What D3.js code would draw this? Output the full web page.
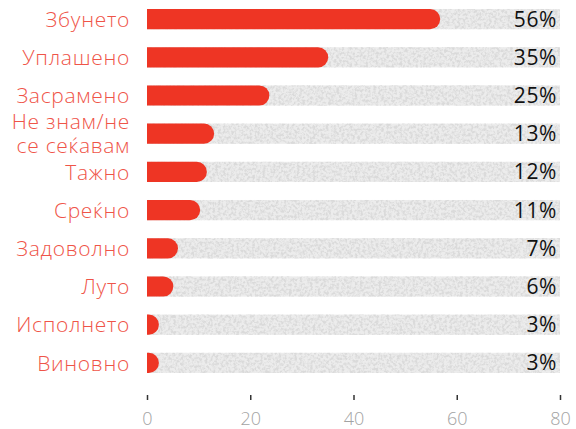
<!DOCTYPE html>
<html>
<head>
<meta charset="utf-8">
<script src="https://cdn.jsdelivr.net/npm/d3@7/dist/d3.min.js"></script>
<style>
  html, body { margin: 0; padding: 0; background: #fff; }
  svg { display: block; }
  .cat { font-family: "Open Sans", sans-serif; font-weight: 300; font-size: 21px; letter-spacing: 0.7px; fill: #ef5448; }
  .pct { font-family: "Open Sans", sans-serif; font-size: 21px; letter-spacing: 0.6px; fill: #111; }
  .axis text { font-family: "Open Sans", sans-serif; font-weight: 300; font-size: 18px; fill: #a3a3a3; }
</style>
</head>
<body>
<svg width="576" height="429"></svg>
<script>
// Data
var categories = ["Збунето", "Уплашено", "Засрамено", "Не знам/не\nсе сеќавам", "Тажно", "Среќно", "Задоволно", "Луто", "Исполнето", "Виновно"];
var values = [56.8, 35.1, 23.7, 13, 11.6, 10.3, 6, 5.1, 2.3, 2.3];
var pctLabels = ["56%", "35%", "25%", "13%", "12%", "11%", "7%", "6%", "3%", "3%"];
var ticks = [0, 20, 40, 60, 80];

var svg = d3.select("svg");

// grain texture for the grey track
var defs = svg.append("defs");
var f = defs.append("filter").attr("id", "grain")
  .attr("x", 0).attr("y", 0).attr("width", 1).attr("height", 1);
f.append("feTurbulence").attr("type", "fractalNoise").attr("baseFrequency", 0.38)
  .attr("numOctaves", 3).attr("seed", 4).attr("result", "noise");
f.append("feColorMatrix").attr("in", "noise").attr("type", "matrix")
  .attr("values", "0 0 0 0 0.7  0 0 0 0 0.7  0 0 0 0 0.7  0 0 0 3.4 -1.35")
  .attr("result", "specks");
f.append("feComposite").attr("in", "specks").attr("in2", "SourceGraphic").attr("operator", "in").attr("result", "clipped");
var fm = f.append("feMerge");
fm.append("feMergeNode").attr("in", "SourceGraphic");
fm.append("feMergeNode").attr("in", "clipped");

var x = d3.scaleLinear().domain([0, 80]).range([147, 560]);
var y = d3.scaleBand().domain(categories).range([0, 382]).paddingInner(0.47).paddingOuter(0.235);
var bh = y.bandwidth();

// grey tracks
svg.selectAll(".track")
  .data(categories)
  .enter().append("rect")
  .attr("class", "track")
  .attr("x", x(0))
  .attr("y", function(d) { return y(d); })
  .attr("width", x(80) - x(0))
  .attr("height", bh)
  .attr("fill", "#ececec")
  .attr("filter", "url(#grain)");

// red bars, square left edge and round right end
function barPath(v, top) {
  var x0 = x(0), x1 = x(v), r = bh / 2;
  var xs = Math.max(x0, x1 - r);
  return "M" + x0 + "," + top + "H" + xs +
    "A" + r + "," + r + " 0 0 1 " + xs + "," + (top + bh) +
    "H" + x0 + "Z";
}
svg.selectAll(".bar")
  .data(values)
  .enter().append("path")
  .attr("class", "bar")
  .attr("d", function(d, i) { return barPath(d, y(categories[i])); })
  .attr("fill", "#ee3524");

// category labels
svg.selectAll(".cat")
  .data(categories)
  .enter().append("text")
  .attr("class", "cat")
  .attr("text-anchor", "end")
  .attr("x", 130)
  .attr("y", function(d) { return y(d) + bh / 2; })
  .each(function(d) {
    var lines = d.split("\n");
    var t = d3.select(this);
    lines.forEach(function(l, k) {
      t.append("tspan")
        .attr("x", 130)
        .attr("dy", k == 0 ? (lines.length > 1 ? "-4.5px" : "7.6px") : "23.5px")
        .text(l);
    });
  });

// percent labels
svg.selectAll(".pct")
  .data(pctLabels)
  .enter().append("text")
  .attr("class", "pct")
  .attr("text-anchor", "end")
  .attr("x", 557)
  .attr("y", function(d, i) { return y(categories[i]) + bh / 2 + 7.5; })
  .text(function(d) { return d; });

// x axis
var axis = svg.append("g")
  .attr("class", "axis")
  .attr("transform", "translate(0,395)")
  .call(d3.axisBottom(x).tickValues(ticks).tickSize(5).tickPadding(12));
axis.select(".domain").remove();
axis.selectAll(".tick line").attr("stroke", "#333").attr("stroke-width", 1.5);
</script>
</body>
</html>
